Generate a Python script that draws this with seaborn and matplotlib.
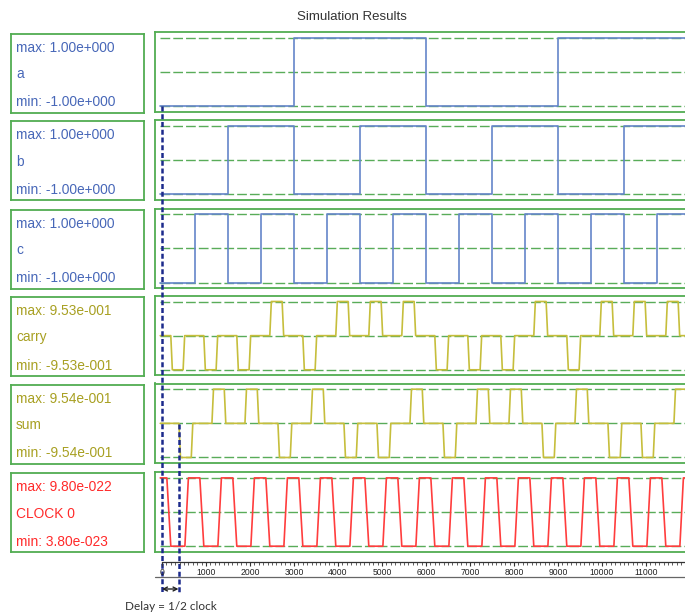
import matplotlib
matplotlib.use("Agg")
import matplotlib.pyplot as plt
import seaborn as sns
from matplotlib.lines import Line2D

sns.set_theme(style="white")
plt.rcParams["font.family"] = ["Liberation Sans", "DejaVu Sans"]

# ---------------- data ----------------
signal_names = ["a", "b", "c", "carry", "sum", "CLOCK 0"]
max_values = [1.00, 1.00, 1.00, 0.953, 0.954, 9.80e-22]
min_values = [-1.00, -1.00, -1.00, -0.953, -0.954, 3.80e-23]

bit_time = 750  # one clock period
a_bits = [0, 0, 0, 0, 1, 1, 1, 1, 0, 0, 0, 0, 1, 1, 1, 1]
b_bits = [0, 0, 1, 1, 0, 0, 1, 1, 0, 0, 1, 1, 0, 0, 1, 1]
c_bits = [0, 1, 0, 1, 0, 1, 0, 1, 0, 1, 0, 1, 0, 1, 0, 1]
carry_bits = [0, 0, 0, 1, 0, 1, 1, 1, 0, 0, 0, 1, 0, 1, 1, 1]
sum_bits = [0, 1, 1, 0, 1, 0, 0, 1, 0, 1, 1, 0, 1, 0, 0, 1]
clock_half_levels = [1, 0, 1, 0, 1, 0, 1, 0, 1, 0, 1, 0, 1, 0, 1, 0, 1,
                     0, 1, 0, 1, 0, 1, 0, 1, 0, 1, 0, 1, 0, 1, 0, 1, 0]
delay_time = 375  # 1/2 clock
x_ticks = [0, 1000, 2000, 3000, 4000, 5000, 6000, 7000, 8000, 9000, 10000, 11000]

# ---------------- layout ----------------
W, H = 685, 615
fig = plt.figure(figsize=(W / 100, H / 100), dpi=100)


def rect(x, y, w, h):
    return [x / W, 1 - (y + h) / H, w / W, h / H]


X0_PX = 162.0
PX_PER_T = 0.044
PANEL_L, PANEL_R = 155, 700
t_left = (PANEL_L - X0_PX) / PX_PER_T
t_right = (PANEL_R - X0_PX) / PX_PER_T
panel_tops = [32.4, 120.0, 208.5, 295.8, 383.5, 472.2]
PANEL_H = 79.5
TOP_M, BOT_M = 5.7, 5.5
GREEN = "#52ad52"
DASH_GREEN = "#3c9e3c"
BLUE = "#6585c9"
OLIVE = "#c6be3c"
RED = "#ff3d3d"
text_colors = ["#4767b8", "#4767b8", "#4767b8", "#a8a022", "#a8a022", "#ff2a2a"]
T_START, T_END = -40, 12600


def fmt(v):
    m, e = f"{v:.2e}".split("e")
    return f"{m}e{int(e):+04d}"


def step_path(bits, lo, hi, period):
    ts, ys = [T_START], [hi if bits[0] else lo]
    for k, b in enumerate(bits):
        lvl = hi if b else lo
        if k > 0:
            ts += [k * period, k * period]
            ys += [ys[-1], lvl]
    ts.append(T_END)
    ys.append(ys[-1])
    return ts, ys


def rz_path(bits, lo, hi, period, offset, ramp=35, hold=245):
    mid = 0.0
    ts, ys = [T_START], [mid]
    for k, b in enumerate(bits):
        s = offset + k * period
        lvl = hi if b else lo
        ts += [s, s + ramp, s + ramp + hold, s + 2 * ramp + hold]
        ys += [mid, lvl, lvl, mid]
    ts.append(T_END)
    ys.append(mid)
    return ts, ys


def clock_path(levels, lo, hi, period, fall=(110, 200), rise=(520, 600)):
    val = lambda s: hi if s else lo
    ts, ys = [T_START], [val(levels[0])]
    for j in range(len(levels) - 1):
        cur, nxt = levels[j], levels[j + 1]
        base = period * (j // 2)
        w = fall if cur > nxt else rise
        ts += [base + w[0], base + w[1]]
        ys += [val(cur), val(nxt)]
    ts.append(T_END)
    ys.append(ys[-1])
    return ts, ys


paths = [
    (step_path(a_bits, min_values[0], max_values[0], bit_time), BLUE),
    (step_path(b_bits, min_values[1], max_values[1], bit_time), BLUE),
    (step_path(c_bits, min_values[2], max_values[2], bit_time), BLUE),
    (rz_path(carry_bits, min_values[3], max_values[3], bit_time, 200), OLIVE),
    (rz_path(sum_bits, min_values[4], max_values[4], bit_time, 385), OLIVE),
    (clock_path(clock_half_levels, min_values[5], max_values[5], bit_time), RED),
]

for i, top in enumerate(panel_tops):
    lo, hi = min_values[i], max_values[i]
    u = (hi - lo) / (PANEL_H - TOP_M - BOT_M)
    ax = fig.add_axes(rect(PANEL_L, top, PANEL_R - PANEL_L, PANEL_H))
    mid = (hi + lo) / 2
    for lvl in (hi, mid, lo):
        ax.plot([-45, T_END], [lvl, lvl], color=DASH_GREEN, lw=1.0,
                ls=(0, (7, 2.2)), alpha=0.85, zorder=1)
    (ts, ys), col = paths[i]
    sns.lineplot(x=ts, y=ys, ax=ax, sort=False, estimator=None, errorbar=None,
                 color=col, linewidth=1.2, zorder=3)
    ax.set_xlim(t_left, t_right)
    ax.set_ylim(lo - BOT_M * u, hi + TOP_M * u)
    ax.set_xticks([])
    ax.set_yticks([])
    ax.set_xlabel("")
    ax.set_ylabel("")
    for sp in ax.spines.values():
        sp.set_color(GREEN)
        sp.set_linewidth(1.3)

    # label box
    lb = fig.add_axes(rect(10.7, top + 1.2, 133.6, PANEL_H - 0.5))
    lb.set_xticks([])
    lb.set_yticks([])
    for sp in lb.spines.values():
        sp.set_color(GREEN)
        sp.set_linewidth(1.3)
    lb.set_xlim(0, 133.6)
    lb.set_ylim(PANEL_H - 0.5, 0)
    tc = text_colors[i]
    lb.text(5.3, 18.0, f"max: {fmt(max_values[i])}", color=tc, fontsize=9.9, va="baseline")
    lb.text(5.3, 44.5, signal_names[i], color=tc, fontsize=9.9, va="baseline")
    lb.text(5.3, 72.5, f"min: {fmt(min_values[i])}", color=tc, fontsize=9.9, va="baseline")

# delay markers
ov = fig.add_axes([PANEL_L / W, 0, (PANEL_R - PANEL_L) / W, 1], zorder=10)
ov.set_xlim(t_left, t_right)
ov.set_ylim(H, 0)
ov.axis("off")
ov.patch.set_alpha(0)
ov.plot([0, 0], [106.4, 592], color="#1c2a8c", lw=1.8, ls=(0, (2, 1.1)))
ov.plot([delay_time, delay_time], [423.5, 592], color="#1c2a8c", lw=1.8, ls=(0, (2, 1.1)))
ov.annotate("", xy=(0, 589), xytext=(delay_time, 589),
            arrowprops=dict(arrowstyle="<->", color="#222222", lw=1.0,
                            shrinkA=0, shrinkB=0, mutation_scale=7))

# time axis
axx = fig.add_axes(rect(PANEL_L, 561, PANEL_R - PANEL_L, 1), zorder=11)
axx.set_xlim(t_left, t_right)
axx.patch.set_alpha(0)
for s in ("left", "right", "top"):
    axx.spines[s].set_visible(False)
axx.spines["bottom"].set_bounds(0, t_right)
axx.spines["bottom"].set_color("#333333")
axx.spines["bottom"].set_linewidth(0.9)
axx.set_yticks([])
axx.set_xticks(x_ticks)
axx.set_xticklabels([str(v) for v in x_ticks])
axx.set_xticks(list(range(0, 12300, 100)), minor=True)
axx.tick_params(axis="x", which="major", direction="out", length=3, width=0.8,
                color="#333333", labelsize=6.2, pad=1.5, labelcolor="#222222", bottom=True)
axx.tick_params(axis="x", which="minor", direction="out", length=1.8, width=0.6,
                color="#444444", bottom=True)
fig.add_artist(Line2D([155 / W, 1], [1 - 577 / H] * 2, color="#666666", lw=0.9))

fig.text(125 / W, 1 - 606 / H, "Delay = 1/2 clock", va="center", ha="left",
         fontsize=8.5, color="#333333", family=["Lato", "DejaVu Sans"])

fig.text(352 / W, 1 - 17 / H, "Simulation Results", ha="center", va="center",
         fontsize=9.5, color="#333333")

fig.savefig("out.png", dpi=100)
